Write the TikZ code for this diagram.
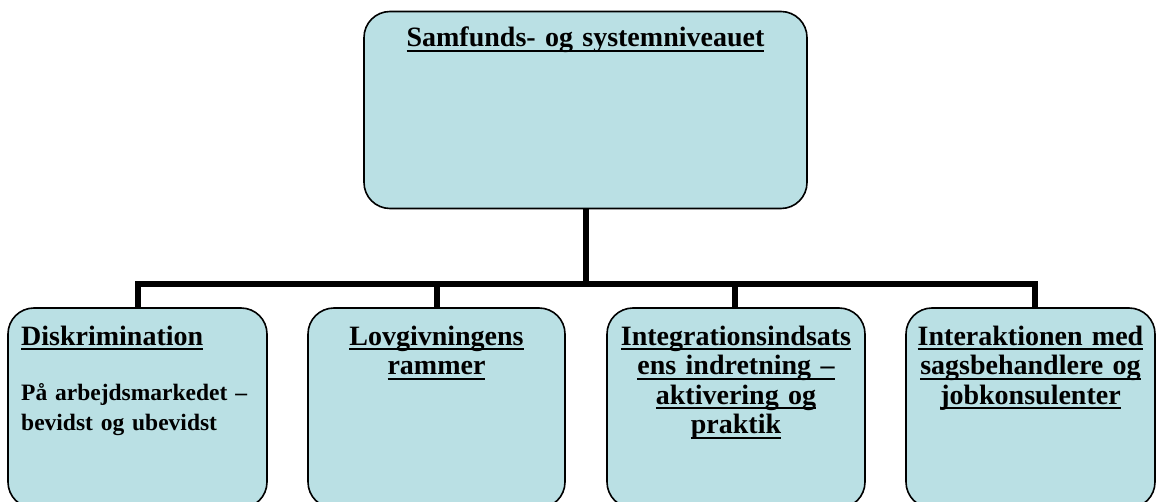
\documentclass[tikz,border=0pt]{standalone}
\usepackage{fontspec}
\setmainfont{Liberation Serif}
\definecolor{boxfill}{RGB}{186,224,228}
\newcommand\myul[1]{\leavevmode\setbox0\hbox{#1}\rlap{\rule[-5pt]{\wd0}{1.9pt}}\box0}
\tikzset{
  pbox/.style={draw=black, line width=1.6pt, fill=boxfill, rounded corners=26pt,
    rectangle, inner sep=0pt, minimum width=#1, minimum height=200pt},
  conn/.style={line width=6pt, line cap=butt},
  bigtxt/.style={font=\bfseries\fontsize{28}{29.5}\selectfont, text width=250pt,
    align=center, anchor=base, inner sep=0pt},
  smalltxt/.style={font=\bfseries\fontsize{23.5}{30}\selectfont, text width=240pt,
    align=left, anchor=base west, inner sep=0pt}
}
\begin{document}
\begin{tikzpicture}[x=1pt,y=1pt]
\useasboundingbox (0,0) rectangle (1156,-502);
\begin{scope}
\clip (0,0) rectangle (1156,-502);
% boxes
\node[pbox=443pt, minimum height=197pt] (top) at (585.5,-110) {};
\node[pbox=259pt] (b1) at (137.5,-408) {};
\node[pbox=257pt] (b2) at (436.5,-408) {};
\node[pbox=258pt] (b3) at (736,-408) {};
\node[pbox=249pt] (b4) at (1030.5,-408) {};
% connectors
\coordinate (hub) at (586,-284);
\draw[conn] (top.south -| hub) -- (hub);
\draw[conn] (b1.north -| 138,0) |- (hub) -| (b4.north -| 1035,0);
\draw[conn] (b2.north) -- (b2.north |- hub);
\draw[conn] (b3.north -| 735,0) -- (hub -| 735,0);
\end{scope}
% texts
\node[bigtxt, text width=430pt] (ttop) at (585.5,-47) {\myul{Samfunds- og systemniveauet}};
\node[bigtxt, text width=240pt, align=left, anchor=base west] (t1) at (21,-345) {\myul{Diskrimination}};
\node[smalltxt] (t1b) at (21,-400) {På arbejdsmarkedet –\\bevidst og ubevidst};
\node[bigtxt] (t2) at (436.5,-345) {\myul{Lovgivningens}\\\myul{rammer}};
\node[bigtxt] (t3) at (736,-345) {\myul{Integrationsindsats}\\\myul{ens indretning –}\\\myul{aktivering og}\\\myul{praktik}};
\node[bigtxt] (t4) at (1030.5,-345) {\myul{Interaktionen med}\\\myul{sagsbehandlere og}\\\myul{jobkonsulenter}};
\end{tikzpicture}
\end{document}
